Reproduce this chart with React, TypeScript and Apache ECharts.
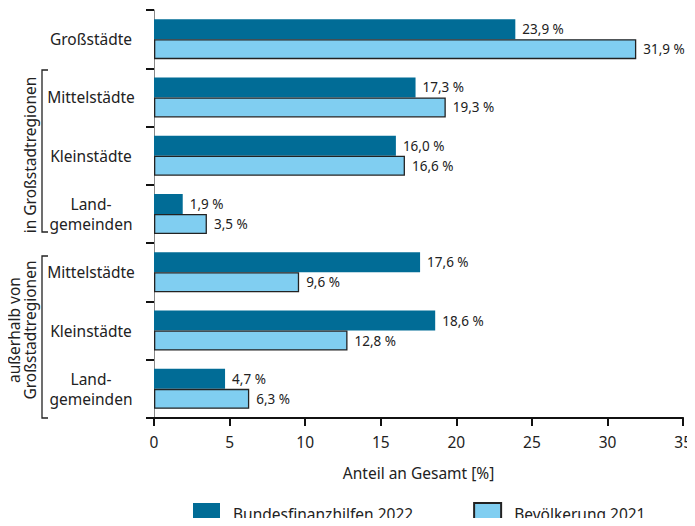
import React, { useEffect, useRef } from "react";
import * as echarts from "echarts";

const categories = [
  "Großstädte",
  "Mittelstädte",
  "Kleinstädte",
  "Land-\ngemeinden",
  "Mittelstädte",
  "Kleinstädte",
  "Land-\ngemeinden",
];
const finanzhilfen = [23.9, 17.3, 16.0, 1.9, 17.6, 18.6, 4.7];
const bevoelkerung = [31.9, 19.3, 16.6, 3.5, 9.6, 12.8, 6.3];
const seriesNames = ["Bundesfinanzhilfen 2022", "Bevölkerung 2021"];
const groupLabels = ["in Großstadtregionen", "außerhalb von\nGroßstadtregionen"];
const xAxisName = "Anteil an Gesamt [%]";

const FONT = "'Noto Sans', sans-serif";
const fmt = (v: number) => v.toFixed(1).replace(".", ",") + " %";

export default function App() {
  const ref = useRef<HTMLDivElement>(null);
  useEffect(() => {
    if (!ref.current) return;
    const chart = echarts.init(ref.current, undefined, { renderer: "svg" });
    const labelCfg = {
      show: true,
      position: "right" as const,
      distance: 7,
      fontSize: 13.5,
      fontFamily: FONT,
      color: "#222",
      formatter: (p: any) => fmt(p.value),
    };
    chart.setOption({
      animation: false,
      textStyle: { fontFamily: FONT },
      grid: { left: 154, right: 9, top: 10, bottom: 108, containLabel: false },
      xAxis: {
        type: "value",
        min: 0,
        max: 35,
        interval: 5,
        name: xAxisName,
        nameLocation: "middle",
        nameGap: 47,
        nameTextStyle: { fontSize: 15.5, color: "#222", fontFamily: FONT },
        axisLine: { show: true, lineStyle: { color: "#111", width: 2 } },
        axisTick: { show: true, length: 8, lineStyle: { color: "#111", width: 2 } },
        axisLabel: { fontSize: 15.5, color: "#222", margin: 16, fontFamily: FONT },
        splitLine: { show: false },
      },
      yAxis: {
        type: "category",
        data: categories,
        inverse: true,
        axisLine: { show: true, lineStyle: { color: "#888", width: 1 } },
        axisTick: { show: true, length: 8, lineStyle: { color: "#111", width: 2 } },
        axisLabel: {
          fontSize: 15.5,
          color: "#222",
          align: "center",
          margin: 63,
          lineHeight: 20,
          fontFamily: FONT,
        },
      },
      legend: {
        left: 193,
        top: 502,
        padding: 0,
        icon: "rect",
        itemWidth: 27,
        itemHeight: 22,
        itemGap: 60,
        textStyle: { fontSize: 15.5, color: "#222", fontFamily: FONT, padding: [0, 0, 0, 8] },
        data: seriesNames,
      },
      series: [
        {
          name: seriesNames[0],
          type: "bar",
          data: finanzhilfen,
          barWidth: 20,
          barGap: "0%",
          itemStyle: { color: "#016C96" },
          label: labelCfg,
        },
        {
          name: seriesNames[1],
          type: "bar",
          data: bevoelkerung,
          barWidth: 20,
          barGap: "0%",
          itemStyle: { color: "#80CEF1", borderColor: "#222", borderWidth: 1.3 },
          label: labelCfg,
        },
      ],
      graphic: [
        {
          type: "polyline",
          shape: { points: [[48, 70], [42, 70], [42, 232], [48, 232]] },
          style: { stroke: "#222", lineWidth: 1.3, fill: null },
        },
        {
          type: "polyline",
          shape: { points: [[48, 256], [42, 256], [42, 418], [48, 418]] },
          style: { stroke: "#222", lineWidth: 1.3, fill: null },
        },
        {
          type: "text",
          x: 30,
          y: 155,
          rotation: Math.PI / 2,
          style: {
            text: groupLabels[0],
            fontSize: 15.5,
            fontFamily: FONT,
            fill: "#222",
            align: "center",
            verticalAlign: "middle",
          },
        },
        {
          type: "text",
          x: 22,
          y: 330,
          rotation: Math.PI / 2,
          style: {
            text: groupLabels[1],
            fontSize: 15.5,
            fontFamily: FONT,
            fill: "#222",
            align: "center",
            verticalAlign: "middle",
            lineHeight: 16,
          },
        },
      ],
    });
    return () => chart.dispose();
  }, []);
  return <div ref={ref} style={{ width: 695, height: 526, margin: -8 }} />;
}
